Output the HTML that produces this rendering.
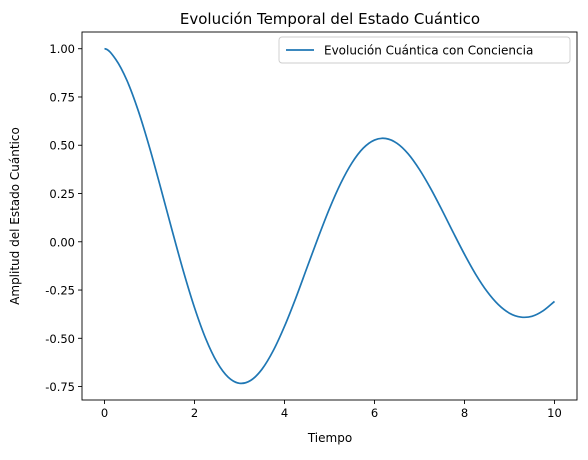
<!DOCTYPE html>
<html><head><meta charset="utf-8"><style>
body{margin:0;background:#fff;}
svg text{font-family:"DejaVu Sans","Liberation Sans",sans-serif;fill:#000;}
</style></head><body>
<svg id="chart" width="588" height="455">
<text x="330" y="24" font-size="15" text-anchor="middle">Evolución Temporal del Estado Cuántico</text>
<g id="axes"></g>
<path id="line" fill="none" stroke="#1f77b4" stroke-width="1.7"></path>
<rect x="82" y="32" width="495" height="368" fill="none" stroke="#000" stroke-width="0.9"/>
<g>
<rect x="279" y="37" width="291" height="26" rx="3" fill="#fff" stroke="#ccc" stroke-width="0.9"/>
<line x1="286" y1="50" x2="314" y2="50" stroke="#1f77b4" stroke-width="1.7"/>
<text x="324" y="54.5" font-size="12">Evolución Cuántica con Conciencia</text>
</g>
<text x="330" y="442" font-size="12" text-anchor="middle">Tiempo</text>
<text transform="translate(19,216) rotate(-90)" font-size="12" text-anchor="middle">Amplitud del Estado Cuántico</text>
</svg>
<script>
const times=[0,0.25,0.5,0.75,1,1.25,1.5,1.75,2,2.25,2.5,2.75,3,3.25,3.5,3.75,4,4.25,4.5,4.75,5,5.25,5.5,5.75,6,6.25,6.5,6.75,7,7.25,7.5,7.75,8,8.25,8.5,8.75,9,9.25,9.5,9.75,10];
const amplitude=[1.000,0.945,0.835,0.679,0.489,0.278,0.061,-0.150,-0.341,-0.502,-0.624,-0.702,-0.733,-0.718,-0.660,-0.564,-0.438,-0.292,-0.134,0.023,0.172,0.303,0.409,0.485,0.527,0.535,0.510,0.455,0.374,0.275,0.164,0.048,-0.065,-0.169,-0.257,-0.325,-0.370,-0.390,-0.386,-0.357,-0.309];
const xTicks=[0,2,4,6,8,10];
const yTicks=[1.00,0.75,0.50,0.25,0.00,-0.25,-0.50,-0.75];
const L=82,R=577,T=32,B=400;
const xMin=-0.5,xMax=10.5,yMin=-0.8196,yMax=1.0866;
const sx=v=>L+(v-xMin)/(xMax-xMin)*(R-L);
const sy=v=>B-(v-yMin)/(yMax-yMin)*(B-T);
const NS="http://www.w3.org/2000/svg";
const ax=document.getElementById('axes');
function mk(tag,attrs){const e=document.createElementNS(NS,tag);for(const k in attrs)e.setAttribute(k,attrs[k]);return e;}
xTicks.forEach(v=>{
 const g=mk('g',{});
 
 
 g.appendChild(mk('line',{x1:sx(v),x2:sx(v),y1:B,y2:B+4,stroke:'#000','stroke-width':0.9}));
 const t=mk('text',{x:sx(v),y:B+17,'font-size':11.5,'text-anchor':'middle'});t.textContent=v;g.appendChild(t);
 ax.appendChild(g);
});
yTicks.forEach(v=>{
 const g=mk('g',{});
 
 
 g.appendChild(mk('line',{x1:L-4,x2:L,y1:sy(v),y2:sy(v),stroke:'#000','stroke-width':0.9}));
 const t=mk('text',{x:L-7,y:sy(v)+4.5,'font-size':11.5,'text-anchor':'end'});t.textContent=v.toFixed(2);g.appendChild(t);
 ax.appendChild(g);
});
const P=times.map((t,i)=>[sx(t),sy(amplitude[i])]);
let d='M'+P[0][0]+','+P[0][1];
for(let i=0;i<P.length-1;i++){
 const p1=P[i],p2=P[i+1],p3=P[Math.min(i+2,P.length-1)];
 let c1;
 if(i===0){c1=[p1[0]+(p2[0]-p1[0])/3,p1[1]];}
 else{const p0=P[i-1];c1=[p1[0]+(p2[0]-p0[0])/6,p1[1]+(p2[1]-p0[1])/6];}
 let c2;
 if(i+2>P.length-1){c2=[p2[0]-(p2[0]-p1[0])/3,p2[1]-(p2[1]-p1[1])/3];}
 else{c2=[p2[0]-(p3[0]-p1[0])/6,p2[1]-(p3[1]-p1[1])/6];}
 d+=' C'+c1[0]+','+c1[1]+' '+c2[0]+','+c2[1]+' '+p2[0]+','+p2[1];
}
document.getElementById('line').setAttribute('d',d);
</script>
</body></html>
